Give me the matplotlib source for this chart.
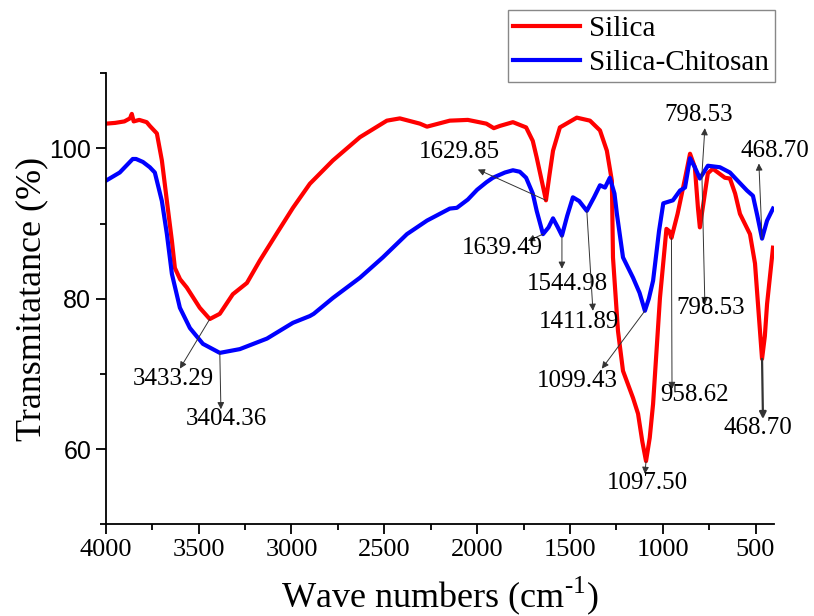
import matplotlib
matplotlib.use('Agg')
import matplotlib.pyplot as plt
from matplotlib.ticker import MultipleLocator

plt.rcParams['font.family'] = 'Liberation Serif'
plt.rcParams['mathtext.fontset'] = 'custom'
plt.rcParams['mathtext.rm'] = 'Liberation Serif'

# FTIR spectra (wave number, transmittance %)
wn_silica = [4000, 3950, 3900, 3870, 3860, 3850, 3820, 3780, 3763, 3725, 3698, 3671,
             3644, 3628, 3600, 3564, 3494, 3440, 3386, 3316, 3240, 3170, 3079, 2992,
             2901, 2777, 2631, 2486, 2416, 2308, 2270, 2147, 2050, 1950, 1910, 1877,
             1807, 1736, 1700, 1679, 1650, 1629, 1610, 1591, 1554, 1463, 1392, 1338,
             1301, 1274, 1268, 1241, 1214, 1160, 1133, 1110, 1090, 1070, 1052, 1015,
             980, 965, 953, 920, 880, 853, 827, 810, 800, 785, 757, 730, 665, 638,
             610, 584, 530, 503, 480, 465, 450, 438, 406]
t_silica = [103.3, 103.4, 103.6, 104.0, 104.6, 103.6, 103.8, 103.5, 103.0, 102.0, 98.4, 93.0,
            87.7, 84.1, 82.6, 81.5, 78.8, 77.3, 78.0, 80.6, 82.1, 85.1, 88.7, 92.1,
            95.3, 98.4, 101.5, 103.7, 104.0, 103.3, 102.9, 103.7, 103.8, 103.3, 102.7, 103.0,
            103.5, 102.8, 101.0, 98.8, 95.5, 93.1, 96.5, 99.7, 102.8, 104.1, 103.7, 102.4,
            99.7, 95.7, 85.5, 75.7, 70.4, 66.8, 64.7, 61.0, 58.4, 61.5, 66.0, 80.1,
            89.3, 89.0, 88.1, 91.3, 96.0, 99.3, 97.5, 92.0, 89.5, 92.0, 96.7, 97.3, 96.1, 96.0,
            94.0, 91.3, 88.6, 84.7, 77.0, 72.0, 75.0, 79.3, 86.8]

wn_chitosan = [4000, 3925, 3855, 3837, 3800, 3763, 3736, 3698, 3671, 3644, 3601, 3547,
               3477, 3386, 3278, 3132, 2992, 2901, 2880, 2777, 2631, 2508, 2378, 2270,
               2147, 2109, 2050, 2000, 1950, 1915, 1850, 1807, 1770, 1736, 1700, 1679,
               1645, 1615, 1591, 1565, 1543, 1515, 1484, 1450, 1409, 1370, 1338, 1311,
               1285, 1260, 1247, 1214, 1160, 1125, 1096, 1075, 1052, 1020, 997, 945,
               907, 880, 853, 827, 800, 757, 692, 638, 600, 546, 514, 490, 465, 438, 406]
t_chitosan = [95.7, 96.8, 98.6, 98.6, 98.2, 97.5, 96.8, 93.0, 88.6, 83.3, 78.8, 76.1,
              74.0, 72.8, 73.3, 74.7, 76.8, 77.7, 78.0, 80.1, 82.8, 85.5, 88.6, 90.4,
              92.0, 92.1, 93.2, 94.5, 95.5, 96.1, 96.8, 97.1, 96.9, 96.1, 94.0, 91.7,
              88.6, 89.5, 90.7, 89.5, 88.4, 91.0, 93.5, 93.0, 91.7, 93.5, 95.1, 94.8,
              96.1, 94.0, 91.3, 85.5, 82.8, 80.8, 78.4, 80.0, 82.4, 89.0, 92.7, 93.1,
              94.4, 94.8, 98.7, 97.5, 96.0, 97.7, 97.5, 96.8, 95.8, 94.4, 93.7, 91.0, 88.0, 90.4, 92.0]

# peak labels: text, text position, arrow start (on curve), arrow end
peak_labels = ['3433.29', '3404.36', '1629.85', '1639.49', '1544.98', '1411.89',
               '1099.43', '1097.50', '958.62', '798.53', '798.53', '468.70', '468.70']
label_pos = [(3634, 69.3), (3348, 64.0), (2093, 99.5), (1866, 86.8), (1516, 82.0),
             (1452, 76.9), (1462, 69.1), (1085, 55.5), (827, 67.2), (740, 78.8),
             (805, 104.4), (396, 99.6), (487, 62.8)]
arrow_from = [(3440, 77.3), (3386, 72.8), (1629, 93.1), (1645, 88.6), (1543, 88.4),
              (1409, 91.7), (1096, 78.4), (1090, 58.4), (953, 88.1), (789, 96.5),
              (789, 96.5), (465, 88.0), (465, 72.0)]
arrow_to = [(3601, 70.7), (3380, 65.3), (1996, 97.2), (1726, 87.7), (1543, 84.0),
            (1376, 78.4), (1328, 70.7), (1096, 56.7), (950, 68.0), (773, 79.3),
            (773, 102.7), (482, 98.0), (460, 64.0)]

fig = plt.figure(figsize=(8.14, 6.16), dpi=100)
ax = fig.add_axes([0.130, 0.149, 0.821, 0.732])

ax.plot(wn_silica, t_silica, color='#ff0000', lw=3, label='Silica')
ax.plot(wn_chitosan, t_chitosan, color='#0000ff', lw=3, label='Silica-Chitosan')

for i in range(len(peak_labels)):
    lw = 1.6 if i == len(peak_labels) - 1 else 0.7
    ax.annotate('', xy=arrow_to[i], xytext=arrow_from[i],
                arrowprops=dict(arrowstyle='-|>', color='#333333', lw=lw,
                                mutation_scale=10, shrinkA=0, shrinkB=0))
    ax.text(label_pos[i][0], label_pos[i][1], peak_labels[i], fontsize=18,
            ha='center', va='center')

ax.set_xlim(4000, 400)
ax.set_ylim(50, 110)
ax.xaxis.set_major_locator(MultipleLocator(500))
ax.xaxis.set_minor_locator(MultipleLocator(250))
ax.yaxis.set_minor_locator(MultipleLocator(10))
ax.set_yticks([60, 80, 100])
ax.spines['top'].set_visible(False)
ax.spines['right'].set_visible(False)
for s in ['left', 'bottom']:
    ax.spines[s].set_linewidth(1.3)
ax.tick_params(which='major', direction='out', length=7, width=1.3, labelsize=19)
ax.tick_params(which='minor', direction='out', length=4, width=1.3)
for lab in ax.get_yticklabels():
    lab.set_family('Liberation Sans')
    lab.set_fontsize(18)

ax.set_xlabel('Wave numbers (cm$^{\\text{-1}}$)', fontsize=26, labelpad=10)
ax.set_ylabel('Transmitatance (%)', fontsize=26, labelpad=1)

leg = ax.legend(loc='upper right', bbox_to_anchor=(775 / 814, 1 - 10 / 616),
                bbox_transform=fig.transFigure, fontsize=21, frameon=True,
                fancybox=False, edgecolor='#888888', framealpha=1,
                handlelength=2.3, handletextpad=0.3, labelspacing=0.25,
                borderpad=0.2, borderaxespad=0)
leg.get_frame().set_linewidth(1.0)

fig.savefig('out.png', dpi=100)
